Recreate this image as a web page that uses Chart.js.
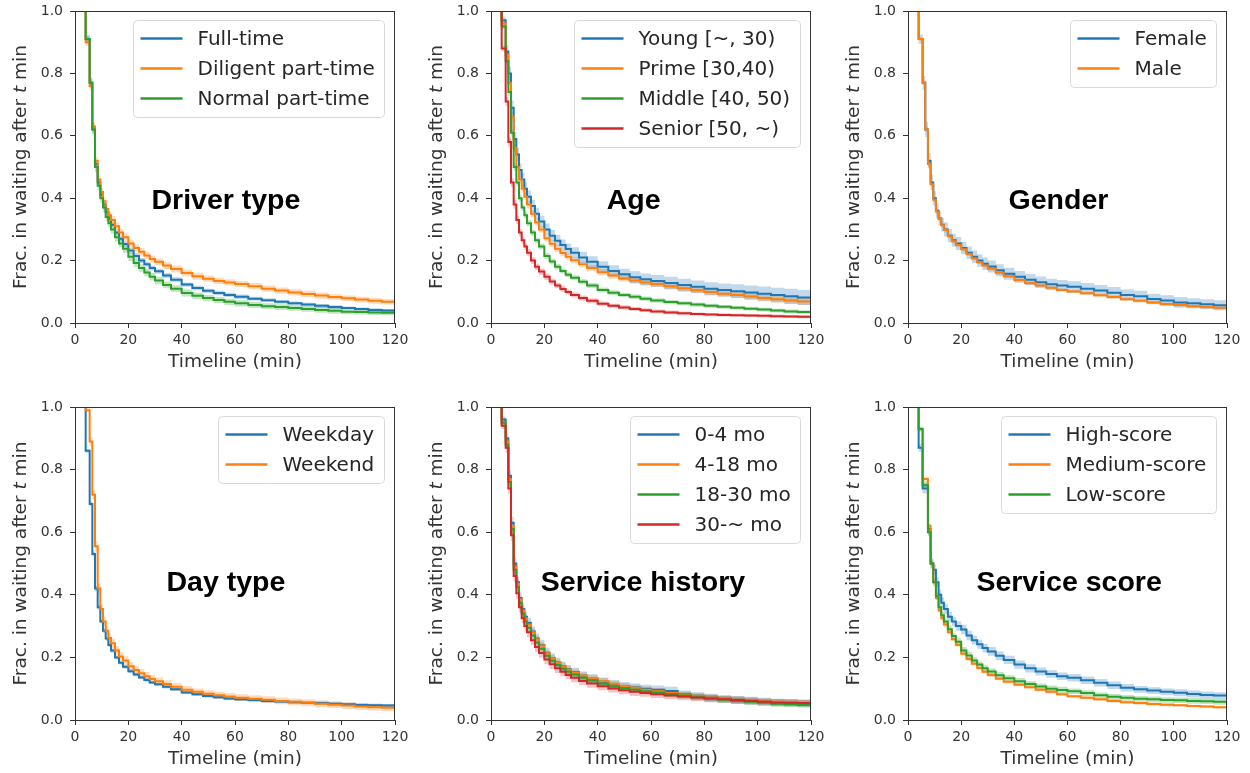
<!DOCTYPE html>
<html>
<head>
<meta charset="utf-8">
<title>Waiting time survival curves</title>
<script src="https://cdn.jsdelivr.net/npm/chart.js@4.4.1/dist/chart.umd.min.js"></script>
<style>
  html, body { margin: 0; padding: 0; background: #fff; width: 1250px; height: 773px; overflow: hidden; }
  canvas { position: absolute; display: block; }
</style>
</head>
<body>
<canvas id="c1" width="420" height="380" style="left:0;top:0"></canvas>
<canvas id="c2" width="420" height="380" style="left:416px;top:0"></canvas>
<canvas id="c3" width="417" height="380" style="left:833px;top:0"></canvas>
<canvas id="c4" width="420" height="377" style="left:0;top:396px"></canvas>
<canvas id="c5" width="420" height="377" style="left:416px;top:396px"></canvas>
<canvas id="c6" width="417" height="377" style="left:833px;top:396px"></canvas>
<script>
// Shared time grid (minutes) of the Kaplan-Meier steps
const minutes = [0,4,5.5,6.5,7.5,8.5,9.5,10.5,11.5,12.5, 13.5,15,16.5,18,20,22,24,26,28,30, 33,36,40,44,48,52,56,60,65,70, 75,80,85,90,95,100,105,110,115,120];
const xTickValues = [0, 20, 40, 60, 80, 100, 120];
const yTickValues = [0, 0.2, 0.4, 0.6, 0.8, 1.0];

// Driver type
const fullTime = [1,.91,.77,.62,.51,.45,.41,.38,.355,.335, .315,.29,.27,.253,.232,.215,.2,.188,.176,.166, .152,.139,.123,.112,.103,.096,.09,.084,.078,.073, .068,.063,.059,.055,.051,.048,.045,.042,.04,.038];
const diligent = [1,.90,.76,.63,.52,.46,.42,.39,.365,.345, .33,.31,.29,.275,.255,.24,.228,.216,.205,.196, .184,.173,.16,.15,.142,.135,.13,.125,.118,.11, .104,.098,.093,.088,.083,.079,.075,.071,.068,.064];
const normalPT = [1,.91,.77,.62,.50,.44,.40,.37,.34,.32, .30,.275,.255,.238,.212,.192,.176,.162,.148,.136, .122,.11,.096,.087,.08,.074,.068,.063,.058,.054, .051,.048,.045,.042,.039,.036,.035,.034,.033,.032];
const fullTimeCI = [0,.01,.012,.012,.012,.011,.011,.01,.01,.01, .01,.009,.009,.009,.009,.009,.008,.008,.008,.008, .008,.008,.007,.007,.007,.007,.007,.007,.006,.006, .006,.006,.006,.006,.006,.005,.005,.005,.005,.005];
const diligentCI = [0,.012,.014,.014,.014,.013,.013,.013,.012,.012, .012,.012,.012,.012,.012,.012,.012,.011,.011,.011, .011,.011,.011,.011,.01,.01,.01,.01,.01,.01, .01,.01,.01,.01,.009,.009,.009,.009,.009,.009];
const normalPTCI = [0,.013,.016,.016,.016,.015,.015,.015,.014,.014, .014,.014,.013,.013,.013,.013,.012,.012,.012,.012, .011,.011,.011,.011,.01,.01,.01,.01,.01,.009, .009,.009,.009,.009,.009,.008,.008,.008,.008,.008];

// Age
const young = [1,.97,.87,.80,.69,.59,.54,.49,.46,.43, .405,.375,.35,.325,.30,.28,.264,.25,.237,.225, .21,.196,.18,.167,.156,.147,.14,.135,.128,.122, .116,.11,.106,.102,.098,.094,.09,.086,.082,.077];
const prime = [1,.96,.86,.77,.66,.56,.50,.46,.43,.405, .38,.35,.323,.3,.272,.254,.238,.224,.212,.201, .188,.176,.163,.152,.143,.136,.13,.125,.118,.111, .105,.099,.094,.09,.085,.08,.076,.072,.069,.066];
const middle = [1,.95,.84,.74,.61,.50,.45,.40,.37,.345, .32,.29,.265,.245,.215,.197,.18,.167,.155,.145, .132,.12,.106,.097,.09,.084,.078,.072,.067,.063, .059,.055,.052,.049,.046,.043,.04,.037,.035,.034];
const senior = [1,.88,.71,.58,.45,.38,.33,.29,.265,.245, .225,.2,.18,.165,.148,.133,.12,.109,.099,.09, .08,.071,.062,.055,.05,.045,.041,.037,.034,.031, .029,.027,.026,.025,.024,.023,.022,.021,.02,.018];
const youngCI = [0,.012,.02,.021,.022,.022,.022,.021,.021,.02, .02,.02,.019,.019,.019,.018,.018,.018,.018,.018, .018,.018,.018,.018,.018,.019,.019,.019,.02,.02, .02,.021,.021,.022,.022,.023,.023,.024,.024,.025];
const primeCI = [0,.008,.012,.013,.013,.013,.013,.012,.012,.012, .012,.011,.011,.011,.011,.011,.011,.01,.01,.01, .01,.01,.01,.01,.01,.01,.01,.01,.01,.01, .01,.01,.01,.01,.011,.011,.011,.011,.011,.011];
const middleCI = [0,.008,.011,.012,.012,.011,.011,.011,.01,.01, .01,.01,.009,.009,.009,.009,.009,.008,.008,.008, .008,.008,.008,.008,.007,.007,.007,.007,.007,.007, .007,.007,.006,.006,.006,.006,.006,.006,.006,.006];
const seniorCI = [0,.01,.014,.015,.015,.014,.013,.012,.012,.011, .011,.011,.01,.01,.01,.009,.009,.009,.008,.008, .008,.008,.007,.007,.007,.006,.006,.006,.006,.006, .005,.005,.005,.005,.005,.005,.005,.005,.005,.005];

// Gender
const female = [1,.91,.77,.62,.52,.45,.40,.36,.335,.315, .30,.28,.265,.255,.24,.225,.212,.2,.19,.181, .169,.158,.148,.139,.131,.124,.12,.116,.11,.104, .097,.09,.086,.077,.072,.066,.063,.06,.057,.055];
const male = [1,.91,.77,.62,.51,.445,.395,.357,.333,.313, .298,.278,.262,.25,.236,.221,.207,.195,.184,.174, .161,.15,.138,.128,.12,.113,.106,.101,.095,.089, .083,.076,.071,.066,.061,.058,.054,.051,.049,.047];
const femaleCI = [0,.015,.022,.024,.024,.024,.023,.023,.022,.022, .022,.021,.021,.021,.02,.02,.02,.02,.02,.019, .019,.019,.019,.018,.018,.018,.018,.018,.018,.018, .018,.017,.017,.017,.017,.017,.016,.016,.016,.016];
const maleCI = [0,.006,.008,.008,.008,.008,.008,.008,.007,.007, .007,.007,.007,.007,.007,.006,.006,.006,.006,.006, .006,.006,.006,.006,.006,.005,.005,.005,.005,.005, .005,.005,.005,.005,.005,.005,.005,.005,.005,.005];

// Day type
const weekday = [1,.86,.69,.53,.42,.36,.315,.285,.26,.24, .222,.2,.183,.17,.156,.145,.136,.128,.12,.114, .106,.098,.088,.082,.077,.073,.069,.066,.064,.061, .059,.057,.055,.054,.052,.05,.048,.047,.046,.045];
const weekend = [1,.99,.89,.72,.555,.42,.355,.315,.285,.262, .245,.222,.203,.19,.172,.16,.149,.14,.131,.124, .115,.106,.097,.09,.084,.079,.075,.071,.068,.065, .061,.058,.055,.052,.049,.046,.043,.041,.039,.037];
const weekdayCI = [0,.006,.008,.008,.008,.008,.007,.007,.007,.007, .007,.006,.006,.006,.006,.006,.006,.006,.005,.005, .005,.005,.005,.005,.005,.005,.005,.005,.005,.005, .005,.005,.005,.005,.005,.005,.005,.005,.005,.005];
const weekendCI = [0,.006,.014,.016,.017,.017,.016,.016,.015,.015, .015,.014,.014,.014,.013,.013,.013,.013,.012,.012, .012,.012,.012,.011,.011,.011,.011,.011,.011,.011, .011,.011,.011,.011,.011,.011,.011,.011,.011,.011];

// Service history
const mo0to4 = [1,.96,.90,.78,.63,.50,.44,.39,.355,.33, .31,.283,.26,.24,.215,.198,.184,.172,.162,.153, .141,.132,.122,.114,.108,.104,.1,.097,.093,.082, .077,.072,.068,.065,.062,.06,.057,.055,.054,.053];
const mo4to18 = [1,.95,.89,.77,.62,.49,.435,.385,.35,.325, .305,.28,.258,.238,.213,.197,.183,.171,.161,.152, .142,.133,.124,.116,.109,.103,.097,.092,.086,.081, .076,.072,.068,.065,.062,.06,.058,.057,.056,.055];
const mo18to30 = [1,.95,.88,.76,.61,.48,.425,.375,.34,.315, .295,.27,.248,.228,.205,.189,.176,.164,.154,.145, .135,.126,.116,.108,.102,.097,.092,.088,.083,.078, .073,.069,.065,.061,.058,.055,.052,.05,.048,.046];
const mo30up = [1,.94,.87,.74,.59,.46,.405,.36,.325,.30, .28,.255,.233,.214,.193,.178,.165,.154,.144,.135, .125,.117,.108,.101,.095,.09,.086,.082,.078,.075, .072,.069,.066,.064,.061,.058,.056,.055,.054,.052];
const mo0to4CI = [0,.01,.016,.018,.019,.019,.018,.018,.017,.017, .017,.016,.016,.016,.015,.015,.015,.015,.014,.014, .014,.014,.014,.013,.013,.013,.013,.013,.013,.012, .012,.012,.012,.012,.012,.011,.011,.011,.011,.011];
const mo4to18CI = [0,.008,.012,.013,.014,.014,.013,.013,.013,.012, .012,.012,.012,.011,.011,.011,.011,.011,.011,.01, .01,.01,.01,.01,.01,.01,.01,.01,.009,.009, .009,.009,.009,.009,.009,.009,.009,.009,.009,.009];
const mo18to30CI = [0,.009,.014,.015,.016,.016,.015,.015,.014,.014, .014,.013,.013,.013,.012,.012,.012,.012,.012,.011, .011,.011,.011,.011,.011,.01,.01,.01,.01,.01, .01,.01,.01,.01,.01,.01,.01,.009,.009,.009];
const mo30upCI = [0,.01,.016,.018,.018,.018,.018,.017,.017,.017, .016,.016,.016,.015,.015,.015,.015,.014,.014,.014, .014,.014,.013,.013,.013,.013,.012,.012,.012,.012, .012,.012,.011,.011,.011,.011,.011,.011,.011,.011];

// Service score
const highScore = [1,.87,.74,.74,.61,.50,.48,.44,.40,.375, .355,.33,.315,.30,.289,.27,.255,.242,.23,.219, .205,.192,.177,.165,.155,.147,.14,.135,.127,.119, .111,.103,.098,.094,.09,.087,.083,.08,.078,.076];
const mediumScore = [1,.93,.77,.77,.62,.50,.44,.39,.35,.325, .305,.28,.258,.24,.212,.195,.18,.166,.154,.144, .132,.122,.113,.105,.097,.09,.082,.076,.071,.066, .061,.057,.054,.051,.049,.047,.045,.043,.041,.039];
const lowScore = [1,.93,.75,.75,.60,.50,.44,.395,.36,.335, .315,.29,.268,.25,.222,.206,.19,.177,.165,.155, .143,.133,.124,.115,.107,.1,.096,.092,.086,.079, .074,.071,.068,.066,.064,.063,.061,.06,.058,.057];
const highScoreCI = [0,.012,.016,.016,.017,.017,.017,.016,.016,.016, .016,.015,.015,.015,.015,.015,.014,.014,.014,.014, .014,.013,.013,.013,.013,.012,.012,.012,.012,.012, .012,.012,.011,.011,.011,.011,.011,.011,.011,.011];
const mediumScoreCI = [0,.005,.007,.007,.008,.008,.008,.007,.007,.007, .007,.007,.006,.006,.006,.006,.006,.006,.006,.006, .005,.005,.005,.005,.005,.005,.005,.005,.005,.005, .005,.005,.005,.005,.005,.004,.004,.004,.004,.004];
const lowScoreCI = [0,.008,.012,.012,.013,.013,.012,.012,.012,.012, .011,.011,.011,.011,.011,.011,.011,.01,.01,.01, .01,.01,.01,.01,.01,.01,.01,.009,.009,.009, .009,.009,.009,.009,.009,.009,.009,.009,.009,.009];

const palette = ['#1f77b4', '#ff7f0e', '#2ca02c', '#d62728'];
const bandFill = ['rgba(31,119,180,0.28)', 'rgba(255,127,14,0.28)', 'rgba(44,160,44,0.28)', 'rgba(214,39,40,0.28)'];

const panels = [
  { id: 'c1', title: 'Driver type', titleAt: [56.6, 0.365], padRight: 25, xHeight: 57,
    series: [['Full-time', fullTime, fullTimeCI], ['Diligent part-time', diligent, diligentCI], ['Normal part-time', normalPT, normalPTCI]] },
  { id: 'c2', title: 'Age', titleAt: [53.5, 0.365], padRight: 25, xHeight: 57,
    series: [['Young [~, 30)', young, youngCI], ['Prime [30,40)', prime, primeCI], ['Middle [40, 50)', middle, middleCI], ['Senior [50, ~)', senior, seniorCI]] },
  { id: 'c3', title: 'Gender', titleAt: [56.6, 0.365], padRight: 23, xHeight: 57,
    series: [['Female', female, femaleCI], ['Male', male, maleCI]] },
  { id: 'c4', title: 'Day type', titleAt: [56.6, 0.413], padRight: 25, xHeight: 53,
    series: [['Weekday', weekday, weekdayCI], ['Weekend', weekend, weekendCI]] },
  { id: 'c5', title: 'Service history', titleAt: [57, 0.413], padRight: 25, xHeight: 53,
    series: [['0-4 mo', mo0to4, mo0to4CI], ['4-18 mo', mo4to18, mo4to18CI], ['18-30 mo', mo18to30, mo18to30CI], ['30-~ mo', mo30up, mo30upCI]] },
  { id: 'c6', title: 'Service score', titleAt: [60.6, 0.413], padRight: 23, xHeight: 53,
    series: [['High-score', highScore, highScoreCI], ['Medium-score', mediumScore, mediumScoreCI], ['Low-score', lowScore, lowScoreCI]] }
];

Chart.defaults.font.family = '"DejaVu Sans", sans-serif';
Chart.defaults.color = '#333';

const AXIS_FONT = '18.5px "DejaVu Sans"';
const AXIS_FONT_IT = 'italic 18.5px "DejaVu Sans"';

// Frame, axis titles, panel caption and legend box
const decorations = {
  id: 'decorations',
  afterDraw(chart, args, opts) {
    const { ctx, chartArea: a, scales } = chart;
    ctx.save();
    // top and right spines
    ctx.strokeStyle = '#333';
    ctx.lineWidth = 1;
    ctx.strokeRect(Math.round(a.left) + 0.5, Math.round(a.top) + 0.5, Math.round(a.right - a.left) - 1, Math.round(a.bottom - a.top));

    // x title
    ctx.fillStyle = '#333';
    ctx.font = AXIS_FONT;
    ctx.textAlign = 'center';
    ctx.textBaseline = 'middle';
    ctx.fillText('Timeline (min)', (a.left + a.right) / 2, a.bottom + 39);

    // y title with italic t
    const parts = [['Frac. in waiting after ', AXIS_FONT], ['t', AXIS_FONT_IT], [' min', AXIS_FONT]];
    let total = 0;
    parts.forEach(p => { ctx.font = p[1]; total += ctx.measureText(p[0]).width; });
    ctx.translate(a.left - 54, (a.top + a.bottom) / 2);
    ctx.rotate(-Math.PI / 2);
    ctx.textAlign = 'left';
    let px = -total / 2;
    parts.forEach(p => { ctx.font = p[1]; ctx.fillText(p[0], px, 0); px += ctx.measureText(p[0]).width; });
    ctx.setTransform(1, 0, 0, 1, 0, 0);

    // caption inside the plot
    ctx.font = 'bold 28.5px "Liberation Sans", Arial, sans-serif';
    ctx.fillStyle = '#000';
    ctx.textAlign = 'center';
    ctx.textBaseline = 'alphabetic';
    ctx.fillText(opts.title, scales.x.getPixelForValue(opts.titleAt[0]), scales.y.getPixelForValue(opts.titleAt[1]));

    // legend
    const items = chart.data.datasets.filter(d => d.mainLine);
    ctx.font = '20px "DejaVu Sans"';
    const tw = Math.max(...items.map(d => ctx.measureText(d.label).width));
    const w = 7 + 42 + 15 + tw + 10;
    const h = 18 + (items.length - 1) * 30 + 19;
    const bx = Math.round(a.right - 11 - w) + 0.5, by = Math.round(a.top + 9) + 0.5;
    ctx.beginPath();
    ctx.roundRect(bx, by, Math.round(w), h, 4);
    ctx.fillStyle = 'rgba(255,255,255,0.85)';
    ctx.fill();
    ctx.strokeStyle = '#d9d9d9';
    ctx.stroke();
    items.forEach((d, i) => {
      const ly = by + 18 + i * 30;
      ctx.beginPath();
      ctx.moveTo(bx + 7, ly);
      ctx.lineTo(bx + 49, ly);
      ctx.strokeStyle = d.borderColor;
      ctx.lineWidth = 2.5;
      ctx.stroke();
      ctx.fillStyle = '#262626';
      ctx.textAlign = 'left';
      ctx.textBaseline = 'middle';
      ctx.fillText(d.label, bx + 64, ly + 1);
    });
    ctx.restore();
  }
};

function buildDatasets(series) {
  const sets = [];
  series.forEach(([name, vals, ci], i) => {
    sets.push({
      data: minutes.map((t, k) => ({ x: t, y: vals[k] - ci[k] })),
      stepped: 'before', borderWidth: 0, pointRadius: 0, fill: false, order: 100 + i
    });
    sets.push({
      data: minutes.map((t, k) => ({ x: t, y: Math.min(1, vals[k] + ci[k]) })),
      stepped: 'before', borderWidth: 0, pointRadius: 0, fill: '-1', backgroundColor: bandFill[i], order: 100 + i
    });
    sets.push({
      label: name, mainLine: true,
      data: minutes.map((t, k) => ({ x: t, y: vals[k] })),
      stepped: 'before', borderColor: palette[i], borderWidth: 2, pointRadius: 0, fill: false, order: 50 - i
    });
  });
  return sets;
}

panels.forEach(p => {
  new Chart(document.getElementById(p.id), {
    type: 'line',
    data: { datasets: buildDatasets(p.series) },
    options: {
      responsive: false,
      animation: false,
      devicePixelRatio: 1,
      layout: { padding: { top: 11, right: p.padRight, bottom: 0, left: 0 } },
      plugins: {
        legend: { display: false },
        tooltip: { enabled: false },
        decorations: { title: p.title, titleAt: p.titleAt }
      },
      scales: {
        x: {
          type: 'linear', min: 0, max: 120,
          afterBuildTicks: s => { s.ticks = xTickValues.map(v => ({ value: v })); },
          afterFit: s => { s.height = p.xHeight; s.paddingLeft = 0; s.paddingRight = 0; },
          grid: { drawOnChartArea: false, drawTicks: true, tickLength: 5, color: '#333' },
          border: { display: true, color: '#333', width: 1 },
          ticks: { padding: 4, color: '#333', font: { size: 14 }, maxRotation: 0 }
        },
        y: {
          type: 'linear', min: 0, max: 1,
          afterBuildTicks: s => { s.ticks = yTickValues.map(v => ({ value: v })); },
          afterFit: s => { s.width = 75; s.paddingTop = 0; s.paddingBottom = 0; },
          grid: { drawOnChartArea: false, drawTicks: true, tickLength: 5, color: '#333' },
          border: { display: true, color: '#333', width: 1 },
          ticks: { padding: 7, color: '#333', font: { size: 14 }, callback: v => v.toFixed(1) }
        }
      }
    },
    plugins: [decorations]
  });
});
</script>
</body>
</html>
